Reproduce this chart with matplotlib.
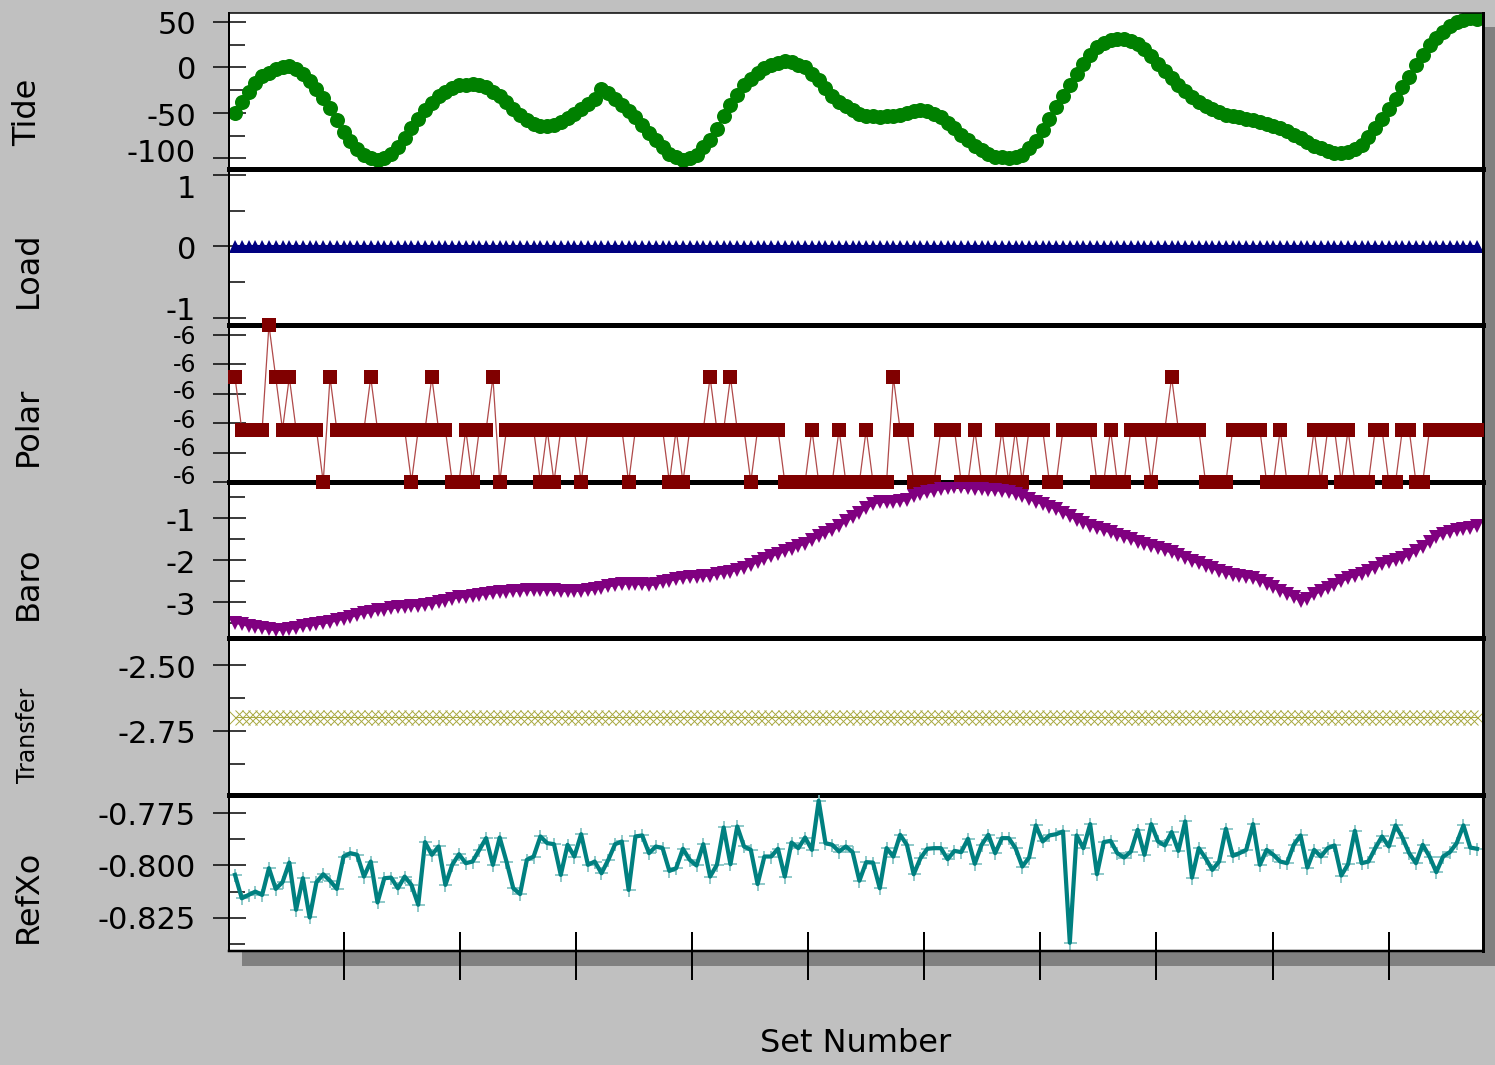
import numpy as np
import matplotlib
matplotlib.use("Agg")
import matplotlib.pyplot as plt
from matplotlib.patches import Rectangle
from matplotlib.transforms import blended_transform_factory

plt.rcParams['font.family'] = ['DejaVu Sans']

W, H = 1495, 1065
PX = 0.72  # points per pixel at 100 dpi

set_number = np.arange(1, 185)

tide = [-50, -38, -27, -17, -10, -6, -2, 0, 1, -2,
        -7, -15, -24, -34, -45, -58, -71, -81, -90, -96,
        -100, -102, -100, -95, -88, -78, -67, -57, -47, -39,
        -32, -27, -23, -20, -19, -18, -20, -22, -27, -32,
        -38, -46, -52, -58, -62, -64, -65, -63, -60, -56,
        -51, -46, -40, -35, -24, -28, -35, -41, -48, -55,
        -63, -72, -80, -88, -95, -99, -102, -100, -96, -88,
        -80, -68, -53, -41, -30, -20, -13, -6, -1, 3,
        5, 7, 6, 3, 0, -7, -14, -23, -32, -38,
        -43, -47, -51, -53, -54, -55, -54, -53, -52, -50,
        -48, -47, -48, -51, -55, -61, -67, -74, -80, -86,
        -91, -95, -98, -99, -100, -98, -96, -89, -81, -69,
        -57, -44, -31, -19, -7, 4, 14, 22, 27, 30,
        31, 31, 29, 26, 20, 12, 4, -4, -12, -19,
        -26, -33, -38, -42, -46, -49, -52, -54, -55, -57,
        -58, -60, -62, -64, -67, -70, -74, -78, -82, -86,
        -89, -92, -94, -94, -93, -90, -85, -77, -67, -57,
        -46, -35, -22, -11, 2, 13, 24, 32, 39, 45,
        50, 52, 54, 53]

load = [0.0] * 184

polar = [-5.9998, -5.9999, -5.9999, -5.9999, -5.9999, -5.9997, -5.9998, -5.9999, -5.9998, -5.9999,
         -5.9999, -5.9999, -5.9999, -6.0, -5.9998, -5.9999, -5.9999, -5.9999, -5.9999, -5.9999,
         -5.9998, -5.9999, -5.9999, -5.9999, -5.9999, -5.9999, -6.0, -5.9999, -5.9999, -5.9998,
         -5.9999, -5.9999, -6.0, -6.0, -5.9999, -6.0, -5.9999, -5.9999, -5.9998, -6.0,
         -5.9999, -5.9999, -5.9999, -5.9999, -5.9999, -6.0, -5.9999, -6.0, -5.9999, -5.9999,
         -5.9999, -6.0, -5.9999, -5.9999, -5.9999, -5.9999, -5.9999, -5.9999, -6.0, -5.9999,
         -5.9999, -5.9999, -5.9999, -5.9999, -6.0, -5.9999, -6.0, -5.9999, -5.9999, -5.9999,
         -5.9998, -5.9999, -5.9999, -5.9998, -5.9999, -5.9999, -6.0, -5.9999, -5.9999, -5.9999,
         -5.9999, -6.0, -6.0, -6.0, -6.0, -5.9999, -6.0, -6.0, -6.0, -5.9999,
         -6.0, -6.0, -6.0, -5.9999, -6.0, -6.0, -6.0, -5.9998, -5.9999, -5.9999,
         -6.0, -6.0, -6.0, -6.0, -5.9999, -5.9999, -5.9999, -6.0, -6.0, -5.9999,
         -6.0, -6.0, -6.0, -5.9999, -6.0, -5.9999, -6.0, -5.9999, -5.9999, -5.9999,
         -6.0, -6.0, -5.9999, -5.9999, -5.9999, -5.9999, -5.9999, -6.0, -6.0, -5.9999,
         -6.0, -6.0, -5.9999, -5.9999, -5.9999, -6.0, -5.9999, -5.9999, -5.9998, -5.9999,
         -5.9999, -5.9999, -5.9999, -6.0, -6.0, -6.0, -6.0, -5.9999, -5.9999, -5.9999,
         -5.9999, -5.9999, -6.0, -6.0, -5.9999, -6.0, -6.0, -6.0, -6.0, -5.9999,
         -6.0, -5.9999, -5.9999, -6.0, -5.9999, -6.0, -6.0, -6.0, -5.9999, -5.9999,
         -6.0, -6.0, -5.9999, -5.9999, -6.0, -6.0, -5.9999, -5.9999, -5.9999, -5.9999,
         -5.9999, -5.9999, -5.9999, -5.9999]

baro = [-3.49, -3.53, -3.57, -3.60, -3.62, -3.65, -3.67, -3.66, -3.64, -3.62,
        -3.58, -3.55, -3.53, -3.51, -3.48, -3.44, -3.40, -3.36, -3.31, -3.27,
        -3.24, -3.20, -3.18, -3.15, -3.13, -3.12, -3.10, -3.09, -3.07, -3.05,
        -3.01, -2.97, -2.92, -2.89, -2.88, -2.85, -2.83, -2.81, -2.79, -2.76,
        -2.75, -2.74, -2.73, -2.72, -2.71, -2.71, -2.71, -2.72, -2.74, -2.74,
        -2.74, -2.73, -2.72, -2.70, -2.66, -2.63, -2.60, -2.57, -2.56, -2.57,
        -2.58, -2.60, -2.58, -2.52, -2.49, -2.46, -2.43, -2.41, -2.40, -2.38,
        -2.37, -2.34, -2.31, -2.28, -2.23, -2.18, -2.12, -2.05, -1.98, -1.91,
        -1.85, -1.79, -1.73, -1.67, -1.61, -1.53, -1.44, -1.36, -1.29, -1.20,
        -1.08, -0.98, -0.87, -0.77, -0.67, -0.62, -0.62, -0.62, -0.60, -0.57,
        -0.47, -0.43, -0.39, -0.35, -0.31, -0.29, -0.27, -0.26, -0.28, -0.30,
        -0.32, -0.33, -0.34, -0.35, -0.38, -0.43, -0.48, -0.55, -0.61, -0.67,
        -0.73, -0.79, -0.88, -0.96, -1.04, -1.11, -1.18, -1.24, -1.29, -1.34,
        -1.40, -1.45, -1.51, -1.56, -1.61, -1.66, -1.71, -1.77, -1.82, -1.89,
        -1.95, -2.02, -2.08, -2.14, -2.20, -2.25, -2.30, -2.36, -2.38, -2.40,
        -2.44, -2.49, -2.56, -2.65, -2.73, -2.81, -2.88, -2.97, -2.93, -2.82,
        -2.74, -2.67, -2.60, -2.51, -2.43, -2.38, -2.33, -2.26, -2.18, -2.10,
        -2.05, -2.01, -1.95, -1.88, -1.79, -1.69, -1.58, -1.46, -1.38, -1.33,
        -1.29, -1.26, -1.23, -1.19]

transfer = [-2.697] * 184

refxo = [-0.8045, -0.8157, -0.8141, -0.8125, -0.8141, -0.8013, -0.8112, -0.8080, -0.7986, -0.8212,
         -0.8061, -0.8249, -0.8080, -0.8042, -0.8073, -0.8112, -0.7957, -0.7941, -0.7949, -0.8053,
         -0.7981, -0.8177, -0.8061, -0.8058, -0.8109, -0.8053, -0.8093, -0.8188, -0.7888, -0.7949,
         -0.7909, -0.8093, -0.7997, -0.7946, -0.7989, -0.7981, -0.7925, -0.7869, -0.7997, -0.7866,
         -0.7981, -0.8109, -0.8137, -0.7973, -0.7957, -0.7861, -0.7893, -0.7898, -0.8045, -0.7901,
         -0.7957, -0.7850, -0.7997, -0.7981, -0.8037, -0.7973, -0.7898, -0.7885, -0.8117, -0.7861,
         -0.7856, -0.7941, -0.7909, -0.7917, -0.8026, -0.8013, -0.7920, -0.7973, -0.8000, -0.7898,
         -0.8053, -0.7997, -0.7818, -0.7994, -0.7813, -0.7909, -0.7925, -0.8089, -0.7957, -0.7957,
         -0.7920, -0.8053, -0.7890, -0.7917, -0.7866, -0.7925, -0.7690, -0.7893, -0.7901, -0.7933,
         -0.7909, -0.7936, -0.8073, -0.7984, -0.7986, -0.8109, -0.7917, -0.7957, -0.7853, -0.7901,
         -0.8042, -0.7965, -0.7920, -0.7917, -0.7917, -0.7970, -0.7930, -0.7936, -0.7872, -0.7992,
         -0.7901, -0.7853, -0.7941, -0.7869, -0.7869, -0.7917, -0.8005, -0.7962, -0.7808, -0.7885,
         -0.7856, -0.7850, -0.7837, -0.8370, -0.7856, -0.7917, -0.7802, -0.8042, -0.7888, -0.7882,
         -0.7941, -0.7962, -0.7933, -0.7829, -0.7949, -0.7802, -0.7885, -0.7904, -0.7840, -0.7930,
         -0.7789, -0.8058, -0.7917, -0.7965, -0.8021, -0.7981, -0.7824, -0.7954, -0.7941, -0.7925,
         -0.7802, -0.7997, -0.7925, -0.7949, -0.7981, -0.7989, -0.7901, -0.7856, -0.8010, -0.7925,
         -0.7957, -0.7917, -0.7904, -0.8048, -0.7994, -0.7834, -0.7989, -0.7981, -0.7917, -0.7861,
         -0.7909, -0.7808, -0.7866, -0.7941, -0.7989, -0.7901, -0.7957, -0.8032, -0.7957, -0.7936,
         -0.7893, -0.7808, -0.7914, -0.7920]

panel_names = ["Tide", "Load", "Polar", "Baro", "Transfer", "RefXo"]
name_sizes = [23, 23, 23, 23, 17, 23]
name_y_px = [112, 270, 426, 583, 735, 896]

tide_ticks = [50, 0, -50, -100]
tide_labels = ["50", "0", "-50", "-100"]
tide_minor = [25, -25, -75]
load_ticks = [1, 0, -1]
load_labels = ["1", "0", "-1"]
load_minor = [0.5, -0.5]
polar_ticks = [-6.0, -5.999944, -5.999888, -5.999831, -5.999775, -5.999719]
polar_labels = ["-6", "-6", "-6", "-6", "-6", "-6"]
polar_minor = []
baro_ticks = [-1, -2, -3]
baro_labels = ["-1", "-2", "-3"]
baro_minor = [-0.5, -1.5, -2.5, -3.5]
transfer_ticks = [-2.50, -2.75]
transfer_labels = ["-2.50", "-2.75"]
transfer_minor = [-2.625, -2.875]
refxo_ticks = [-0.775, -0.800, -0.825]
refxo_labels = ["-0.775", "-0.800", "-0.825"]
refxo_minor = [-0.7875, -0.8125, -0.8375]

# label vertical nudges in pixels (positive = down)
tide_nudge = [1, 1, 2, -7]
load_nudge = [12, 1, -9]
polar_nudge = [-7, -5.7, -4.3, -3, -1.3, 0]
baro_nudge = [2, 2, 2]
transfer_nudge = [2, 1]
refxo_nudge = [1, 0, 0]
label_sizes = [22, 22, 17, 22, 22, 22]

ylims = [(-111.7, 59.6), (-1.098, 1.084), (-6.0, -5.9997),
         (-3.857, -0.143), (-2.992, -2.398), (-0.84095, -0.76624)]
xlim = (0.116, 184.88)
xtick_pos = [17.06, 34.15, 51.24, 68.33, 85.42, 102.5, 119.6, 136.7, 153.9, 171.0]

fig = plt.figure(figsize=(W / 100, H / 100), dpi=100, facecolor="#c0c0c0")

L, R, T, B = 229, 1483, 13, 951
bounds = [13, 169, 325, 482, 638, 795, 951]


def fx(px):
    return px / W


def fy(py):
    return 1 - py / H


fig.add_artist(Rectangle((fx(L + 13), fy(B + 15)), fx(R + 13) - fx(L + 13), fy(T + 14) - fy(B + 15),
                         transform=fig.transFigure, facecolor="#808080", edgecolor="none", zorder=0))
fig.add_artist(Rectangle((fx(L), fy(B)), fx(R) - fx(L), fy(T) - fy(B),
                         transform=fig.transFigure, facecolor="white", edgecolor="none", zorder=0.5))

tick_sets = [(tide_ticks, tide_labels, tide_minor, tide_nudge),
             (load_ticks, load_labels, load_minor, load_nudge),
             (polar_ticks, polar_labels, polar_minor, polar_nudge),
             (baro_ticks, baro_labels, baro_minor, baro_nudge),
             (transfer_ticks, transfer_labels, transfer_minor, transfer_nudge),
             (refxo_ticks, refxo_labels, refxo_minor, refxo_nudge)]

axes = []
for k in range(6):
    ax = fig.add_axes([fx(L), fy(bounds[k + 1]), fx(R) - fx(L), fy(bounds[k]) - fy(bounds[k + 1])])
    ax.set_zorder(2)
    ax.patch.set_visible(False)
    ax.set_xlim(*xlim)
    ax.set_ylim(*ylims[k])
    for sp in ax.spines.values():
        sp.set_color("black")
    ax.spines['left'].set_linewidth(2 * PX)
    ax.spines['right'].set_linewidth(3 * PX)
    ax.spines['top'].set_visible(k == 0)
    ax.spines['top'].set_linewidth(1.5 * PX)
    ax.spines['bottom'].set_linewidth(5 * PX if k < 5 else 2.5 * PX)
    ticks, labels, minor, nudge = tick_sets[k]
    ax.set_yticks(ticks)
    ax.set_yticks(minor, minor=True)
    ax.tick_params(axis='y', which='major', direction='inout', length=33 * PX, width=1.5 * PX,
                   labelleft=False, color='black')
    ax.tick_params(axis='y', which='minor', direction='in', length=16 * PX, width=1.5 * PX,
                   color='black')
    ax.tick_params(axis='x', which='both', bottom=False, top=False, labelbottom=False)
    tr = blended_transform_factory(ax.transAxes, ax.transData)
    fs = label_sizes[k]
    half_digit = 0.729 * fs / PX / 2.0
    for v, s, n in zip(ticks, labels, nudge):
        ax.annotate(s, xy=(0, v), xycoords=tr, xytext=(-33 * PX, -(n + half_digit) * PX),
                    textcoords='offset points', ha='right', va='baseline', fontsize=fs,
                    annotation_clip=False)
    fig.text(fx(28), fy(name_y_px[k]), panel_names[k], rotation=90, ha='center', va='center',
             fontsize=name_sizes[k])
    axes.append(ax)

ax_tide, ax_load, ax_polar, ax_baro, ax_transfer, ax_refxo = axes

ax_tide.plot(set_number, tide, color='#008000', lw=2, marker='o', ms=15 * PX, mew=0)
ax_load.plot(set_number, load, color='#000080', lw=1.5, marker='^', ms=13 * PX, mew=0)
ax_polar.plot(set_number, polar, color='#b04a4a', lw=0.9, clip_on=False, zorder=3)
ax_polar.plot(set_number, polar, ls='none', marker='s', ms=13.5 * PX, mew=0, color='#800000',
              clip_on=False, zorder=4)
ax_baro.plot(set_number, baro, color='#800080', lw=1.5, marker='v', ms=14.5 * PX, mew=0)
ax_transfer.plot(set_number, transfer, color='#a8a840', lw=0.7, marker='x', ms=15 * PX, mew=0.7)
ax_refxo.plot(set_number, refxo, ls='none', marker='+', ms=13 * PX, mew=1.2, color='#7cc0c0', zorder=2)
ax_refxo.plot(set_number, refxo, color='#008080', lw=4.2 * PX, zorder=3)

ax_refxo.set_xticks(xtick_pos)
ax_refxo.set_xticks(xtick_pos, minor=True)
ax_refxo.xaxis.remove_overlapping_locs = False
ax_refxo.tick_params(axis='x', which='major', bottom=True, direction='out', length=29 * PX,
                     width=2 * PX, color='black', labelbottom=False)
ax_refxo.tick_params(axis='x', which='minor', bottom=True, direction='in', length=19 * PX,
                     width=2 * PX, color='black', labelbottom=False)

fig.text(fx(856), fy(1044), "Set Number", ha='center', va='center', fontsize=23)

fig.savefig("out.png", dpi=100, facecolor=fig.get_facecolor())
